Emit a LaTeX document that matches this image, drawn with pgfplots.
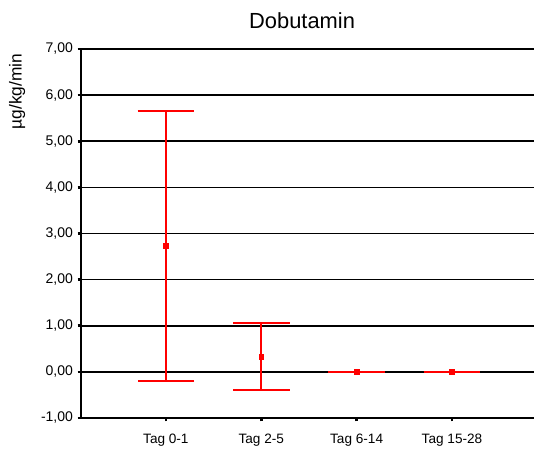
\documentclass[border=0pt]{standalone}
\usepackage{pgfplots}
\pgfplotsset{compat=1.18}
\usepackage{fontspec}
\setmainfont{Liberation Sans}

% mean and symmetric spread per period
\pgfplotstableread{
x  y     e
0  2.73  2.93
1  0.335 0.725
2  0.00  0.00
3  0.00  0.00
}\dobutamin

\begin{document}
\begin{tikzpicture}
\path[use as bounding box] (-60.75pt,-24pt) rectangle (339.75pt,313.5pt);
\begin{axis}[
  at={(0,0)}, anchor=south west,
  scale only axis, width=339.75pt, height=276.75pt,
  xmin=-0.89, xmax=3.86, ymin=-1, ymax=7,
  axis x line=bottom, axis y line=left,
  axis line style={-, line width=2pt, black},
  xtick={0,1,2,3},
  xticklabels={Tag 0-1, Tag 2-5, Tag 6-14, Tag 15-28},
  ytick={-1,0,...,7},
  tick align=outside, major tick length=2.5pt,
  tick style={black, line width=2pt},
  ymajorgrids, major grid style={black, line width=1.2pt},
  /pgf/number format/.cd, fixed, fixed zerofill, precision=2, use comma, assume math mode=true,
  /pgfplots/.cd,
  yticklabel style={font=\fontsize{10.5}{12}\selectfont},
  xticklabel style={font=\fontsize{10.2}{12}\selectfont, yshift=-6pt},
  title={Dobutamin},
  title style={font=\fontsize{16.4}{19}\selectfont, at={(axis description cs:0.488,1)}, anchor=south, yshift=6pt},
  ylabel={µg/kg/min},
  ylabel style={font=\fontsize{13}{15}\selectfont, at={(axis description cs:-0.141,0.885)}, anchor=center, rotate=0},
  clip=false,
]
\addplot[only marks, mark=square*, mark size=1.8pt, red,
  error bars/.cd, y dir=both, y explicit,
  error bar style={line width=1.3pt, draw=red},
  error mark options={line width=1.4pt, mark size=21.25pt, draw=red, rotate=90}]
  table[x=x, y=y, y error=e] {\dobutamin};
\end{axis}
\end{tikzpicture}
\end{document}
